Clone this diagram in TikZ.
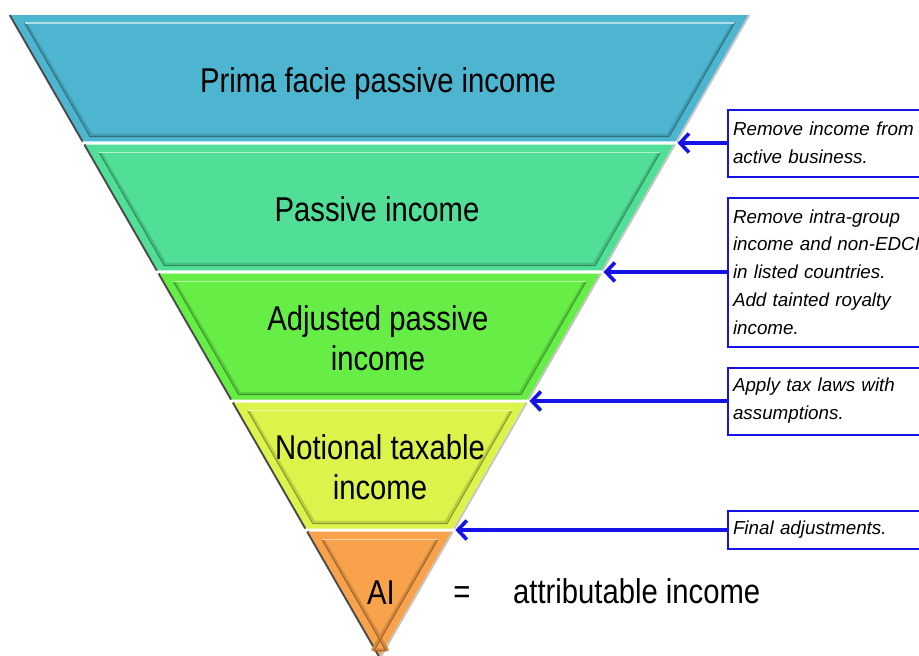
\documentclass[tikz,border=0pt]{standalone}
\usepackage{fontspec}
\setmainfont{Liberation Sans}
\newfontfamily\narrowsans[FakeStretch=0.85]{Liberation Sans}
\usetikzlibrary{arrows.meta,calc}

\definecolor{bandA}{HTML}{4DB5CF}
\definecolor{bandB}{HTML}{51DF97}
\definecolor{bandC}{HTML}{66EE47}
\definecolor{bandD}{HTML}{DCF34B}
\definecolor{bandE}{HTML}{F8A24B}
\definecolor{noteblue}{HTML}{1414E6}
\definecolor{shadowdark}{HTML}{4A4A4A}
\definecolor{shadowlight}{HTML}{C4C4C4}

% one horizontal slice of the funnel: #1 top y, #2 bottom y, #3 colour
\newcommand\funnelslice[3]{%
  \path ($(TL)!{(#1-15)/641}!(AP)$) coordinate (sl1)
        ($(TR)!{(#1-15)/641}!(AP)$) coordinate (sr1)
        ($(TL)!{(#2-15)/641}!(AP)$) coordinate (sl2)
        ($(TR)!{(#2-15)/641}!(AP)$) coordinate (sr2)
        ($(TL)!{(#1+8-15)/641}!(AP)+(9,0)$) coordinate (il1)
        ($(TR)!{(#1+8-15)/641}!(AP)+(-9,0)$) coordinate (ir1)
        ($(TL)!{(#2-5-15)/641}!(AP)+(9,0)$) coordinate (il2)
        ($(TR)!{(#2-5-15)/641}!(AP)+(-9,0)$) coordinate (ir2);
  \draw[shadowdark, line width=2.4pt] ($(sl1)+(-1,0)$) -- ($(sl2)+(-1,0)$);
  \draw[shadowlight, line width=2pt] ($(sr1)+(1.2,0)$) -- ($(sr2)+(1.2,0)$);
  \fill[#3] (sl1) -- (sr1) -- (sr2) -- (sl2) -- cycle;
  \draw[#3!85!black, line width=2.6pt, line join=round] ($(il1)+(1.3,0)$) -- ($(il2)+(1.3,-1.3)$) -- ($(ir2)+(-1.3,-1.3)$) -- ($(ir1)+(-1.3,0)$);
  \draw[#3!62!black, line width=1pt, line join=round] (il1) -- (il2) -- (ir2) -- (ir1);
  \draw[#3!45!white, line width=1.8pt] (il1) -- (ir1);
}

\tikzset{
  bandtext/.style={font=\narrowsans\fontsize{34.4}{40}\selectfont, align=center, inner sep=0pt},
  note/.style={draw=noteblue, line width=2pt, fill=white, anchor=west,
    inner xsep=5pt, inner ysep=0pt, text width=205pt, align=left,
    font=\fontsize{18.8}{27.8}\selectfont\itshape},
  pointer/.style={draw=noteblue, line width=3.6pt,
    -{Straight Barb[length=9pt,width=19pt,line width=3.6pt]}}
}

\begin{document}
\begin{tikzpicture}[x=1pt,y=-1pt]
\useasboundingbox (0,0) rectangle (919,656);
\clip (0,0) rectangle (919,656);
\fill[white] (0,0) rectangle (919,656);

\coordinate (TL) at (11,15);
\coordinate (TR) at (748,15);
\coordinate (AP) at (380,656);

% the five slices of the funnel
\funnelslice{15}{141.5}{bandA}
\funnelslice{144.5}{270.5}{bandB}
\funnelslice{273.5}{399.5}{bandC}
\funnelslice{402.5}{528.5}{bandD}
\funnelslice{531.5}{656}{bandE}

% slice labels
\node[bandtext, anchor=base] (prima) at (378,92) {Prima facie passive income};
\node[bandtext, anchor=base] (passive) at (377,221) {Passive income};
\node[bandtext] (adjusted) at (378,338) {Adjusted passive\\income};
\node[bandtext] (notional) at (380,467) {Notional taxable\\income};
\node[bandtext, anchor=base] (ai) at (381,604) {AI};
\node[bandtext, anchor=base] (eq) at (462,603) {=};
\node[bandtext, anchor=base west] (aidef) at (513,603) {attributable income};

% points on the right edge where the slices meet
\coordinate (g1) at ($(TR)!{(143-15)/641}!(AP)+(3,0)$);
\coordinate (g2) at ($(TR)!{(272-15)/641}!(AP)+(3,0)$);
\coordinate (g3) at ($(TR)!{(401-15)/641}!(AP)+(3,0)$);
\coordinate (g4) at ($(TR)!{(530-15)/641}!(AP)+(3,0)$);

% explanatory notes
\node[note, minimum height=67pt] (n1) at (727,143)
  {Remove income from\\active business.};
\node[note, minimum height=149pt] (n2) at (727,272)
  {Remove intra-group\\income and non-EDCI\\in listed countries.\\Add tainted royalty\\income.};
\node[note, minimum height=67pt] (n3) at (727,401)
  {Apply tax laws with\\assumptions.};
\node[note, minimum height=38pt] (n4) at (727,530)
  {Final adjustments.};

\draw[pointer] (n1.west) -- (g1);
\draw[pointer] (n2.west) -- (g2);
\draw[pointer] (n3.west) -- (g3);
\draw[pointer] (n4.west) -- (g4);
\end{tikzpicture}
\end{document}
